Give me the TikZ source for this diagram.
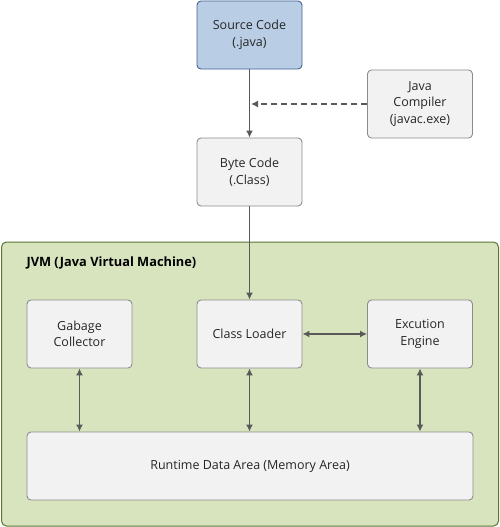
\documentclass[tikz,border=0pt]{standalone}
\usepackage{fontspec}
\setmainfont{Open Sans}
\usetikzlibrary{arrows.meta}
\definecolor{srcfill}{RGB}{185, 205, 229}
\definecolor{srcline}{RGB}{65, 100, 150}
\definecolor{boxfill}{RGB}{242, 242, 242}
\definecolor{boxline}{RGB}{140, 140, 140}
\definecolor{jvmfill}{RGB}{216, 228, 190}
\definecolor{jvmline}{RGB}{90, 118, 50}
\definecolor{arrowgray}{RGB}{89, 89, 89}

\begin{document}
\begin{tikzpicture}[x=1pt, y=-1pt, >={Latex[length=7pt, width=7pt]},
    box/.style={draw=boxline, fill=boxfill, rounded corners=4pt, line width=0.9pt,
      minimum width=105pt, minimum height=68pt, align=center, font=\fontsize{12.5}{16.5}\selectfont,
      text=black!85, inner sep=0pt},
    link/.style={draw=arrowgray, line width=1.4pt}]
    \useasboundingbox (0,0) rectangle (500,527);
    % JVM area
    \node[draw=jvmline, fill=jvmfill, rounded corners=5pt, line width=1pt,
      minimum width=497pt, minimum height=284pt, inner sep=0pt] (jvm) at (250, 384) {};
    \node[anchor=west, font=\bfseries\fontsize{12.8}{15}\selectfont] (jvmtitle) at (23, 263) {JVM (Java Virtual Machine)};
    % boxes
    \node[box, draw=srcline, fill=srcfill] (src) at (249.5, 35) {Source Code\\(.java)};
    \node[box] (javac) at (420, 104) {Java\\Compiler\\(javac.exe)};
    \node[box] (bytecode) at (249.5, 172) {Byte Code\\(.Class)};
    \node[box] (gc) at (79.5, 334) {Gabage\\Collector};
    \node[box] (loader) at (249.5, 334) {Class Loader};
    \node[box] (engine) at (420, 334) {Excution\\Engine};
    \node[box, minimum width=446pt] (runtime) at (250, 466) {Runtime Data Area (Memory Area)};
    \coordinate (javacend) at (251, 104);
    % connectors
    \draw[link, ->] (src) -- (bytecode);
    \draw[link, ->, dashed, dash pattern=on 6pt off 4pt] (javac) -- (javacend);
    \draw[link, ->] (bytecode) -- (loader);
    \draw[link, <->] (loader) -- (engine);
    \draw[link, <->] (gc) -- (gc |- runtime.north);
    \draw[link, <->] (loader) -- (loader |- runtime.north);
    \draw[link, <->] (engine) -- (engine |- runtime.north);
  \end{tikzpicture}
\end{document}
